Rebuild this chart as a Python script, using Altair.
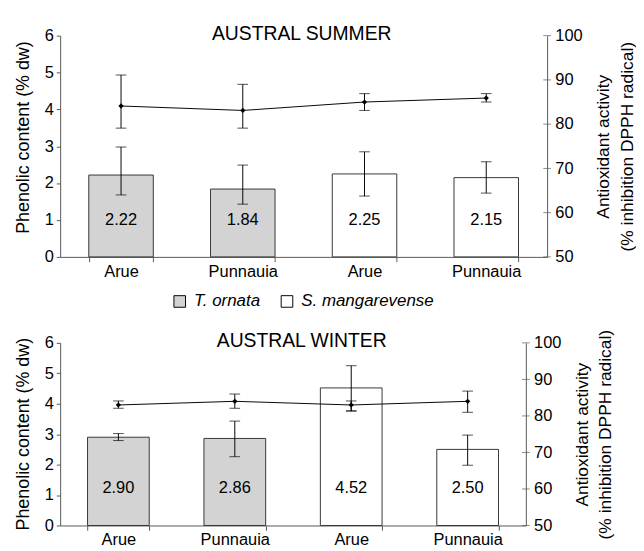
import json
import altair as alt
import pandas as pd

sites = ["Arue", "Punnauia", "Arue", "Punnauia"]
species = ["T. ornata", "T. ornata", "S. mangarevense", "S. mangarevense"]
species_order = ["T. ornata", "S. mangarevense"]
right_ticks = [50, 60, 70, 80, 90, 100]
left_ticks = [0, 1, 2, 3, 4, 5, 6]

summer_phenolic = [2.22, 1.84, 2.25, 2.15]
summer_phen_lo = [1.68, 1.43, 1.65, 1.73]
summer_phen_hi = [2.98, 2.49, 2.85, 2.58]
summer_dpph = [84.1, 83.1, 85.0, 85.9]
summer_dpph_lo = [79.1, 79.1, 83.1, 85.0]
summer_dpph_hi = [91.1, 89.0, 86.9, 86.9]

winter_phenolic = [2.90, 2.86, 4.52, 2.50]
winter_phen_lo = [2.79, 2.26, 3.77, 1.98]
winter_phen_hi = [3.02, 3.43, 5.25, 2.97]
winter_dpph = [83.0, 84.0, 83.0, 84.0]
winter_dpph_lo = [82.1, 82.1, 81.3, 81.0]
winter_dpph_hi = [84.1, 86.0, 84.1, 86.8]

FONT = "Liberation Sans"
AX = "#555555"


def panel(title, phen, plo, phi, dpph, dlo, dhi, w, h, label_y, ltitle_y,
          legend):
    df = pd.DataFrame({
        "idx": list(range(len(sites))), "site": sites, "species": species,
        "phen": phen, "plo": plo, "phi": phi,
        "lab": [f"{v:.2f}" for v in phen],
        "dpph": dpph, "dlo": dlo, "dhi": dhi,
    })
    base = alt.Chart(df)
    x_axis = alt.Axis(
        title=None, labelAngle=0, tickBand="extent", tickSize=5,
        labelExpr=json.dumps(sites) + "[datum.value]",
        labelPadding=2, domainColor=AX, tickColor=AX,
    )
    xs = alt.Scale(paddingInner=0.47, paddingOuter=0.235)
    x = alt.X("idx:O", axis=x_axis, scale=xs)
    yl = alt.Scale(domain=[0, 6], nice=False)
    yr = alt.Scale(domain=[50, 100], nice=False)
    yl_axis = alt.Axis(orient="left", values=left_ticks,
                       title="Phenolic content (% dw)", tickSize=4,
                       labelPadding=3, titleFontSize=18.5,
                       titleX=-39, titleY=ltitle_y, titleBaseline="middle",
                       domainColor=AX, tickColor=AX, grid=False)
    yr_axis = alt.Axis(orient="right", values=right_ticks,
                       title=["Antioxidant activity",
                              "(% inhibition DPPH radical)"],
                       titleAngle=270, titleFontSize=18, titleLineHeight=24,
                       titleX=59, titleY=h / 2, titleBaseline="middle",
                       ticks=False, tickSize=0, labelPadding=8,
                       domainColor=AX, grid=False)

    bars = base.mark_bar(stroke="#333333", strokeWidth=1).encode(
        x=x,
        y=alt.Y("phen:Q", scale=yl, axis=yl_axis),
        fill=alt.Fill("species:N", scale=alt.Scale(
            domain=species_order, range=["#d3d3d3", "#ffffff"]),
            legend=legend),
    )
    err = base.mark_rule(color="black", strokeWidth=1).encode(
        x=x, y=alt.Y("plo:Q", scale=yl, axis=yl_axis), y2="phi:Q")
    cap_hi = base.mark_tick(color="black", thickness=1, size=11).encode(
        x=x, y=alt.Y("phi:Q", scale=yl, axis=yl_axis))
    cap_lo = base.mark_tick(color="black", thickness=1, size=11).encode(
        x=x, y=alt.Y("plo:Q", scale=yl, axis=yl_axis))
    txt = base.mark_text(fontSize=17, font=FONT, color="black").encode(
        x=x, y=alt.datum(label_y, scale=yl, axis=yl_axis), text="lab:N")
    ttl = alt.Chart(pd.DataFrame({"t": [title]})).mark_text(
        fontSize=20, font=FONT, color="black", baseline="alphabetic"
    ).encode(x=alt.value(250), y=alt.value(4), text="t:N")

    left = alt.layer(bars, err, cap_hi, cap_lo, txt, ttl)

    line = base.mark_line(color="black", strokeWidth=1).encode(
        x=x, y=alt.Y("dpph:Q", scale=yr, axis=yr_axis))
    derr = base.mark_rule(color="black", strokeWidth=1).encode(
        x=x, y=alt.Y("dlo:Q", scale=yr, axis=yr_axis), y2="dhi:Q")
    dcap_hi = base.mark_tick(color="black", thickness=1, size=11).encode(
        x=x, y=alt.Y("dhi:Q", scale=yr, axis=yr_axis))
    dcap_lo = base.mark_tick(color="black", thickness=1, size=11).encode(
        x=x, y=alt.Y("dlo:Q", scale=yr, axis=yr_axis))
    pts = base.mark_point(shape="diamond", filled=True, size=30,
                          color="black", opacity=1).encode(
        x=x, y=alt.Y("dpph:Q", scale=yr, axis=yr_axis))
    rticks = alt.Chart(pd.DataFrame({"v": right_ticks})).mark_tick(
        color=AX, thickness=1, size=8, orient="horizontal").encode(
        x=alt.value(w), y=alt.Y("v:Q", scale=yr, axis=yr_axis))
    right = alt.layer(line, derr, dcap_hi, dcap_lo, pts, rticks)

    return alt.layer(left, right).resolve_scale(y="independent").properties(
        width=w, height=h)


top = panel("AUSTRAL SUMMER", summer_phenolic, summer_phen_lo, summer_phen_hi,
            summer_dpph, summer_dpph_lo, summer_dpph_hi, 504, 229, 1.0, 105,
            alt.Legend(orient="none", legendX=115, legendY=266,
                       direction="horizontal", title=None,
                       symbolType="square", symbolSize=144,
                       symbolStrokeColor="black", symbolStrokeWidth=1,
                       labelFontSize=17.5, labelFontStyle="italic",
                       labelFont=FONT, columnPadding=19, labelOffset=6))
bottom = panel("AUSTRAL WINTER", winter_phenolic, winter_phen_lo,
               winter_phen_hi, winter_dpph, winter_dpph_lo, winter_dpph_hi,
               482, 189, 1.22, 94, None)

chart = alt.vconcat(top, bottom, spacing=51).properties(
    padding={"left": 5, "top": 7, "right": 0, "bottom": 0}
).configure_view(stroke=None).configure_axis(
    labelFont=FONT, titleFont=FONT, labelFontSize=17, titleFontSize=18,
    titleFontWeight="normal", labelColor="black", titleColor="black",
).configure_legend(labelColor="black")

chart.save("out.html", embed_options={"renderer": "svg", "actions": False})
